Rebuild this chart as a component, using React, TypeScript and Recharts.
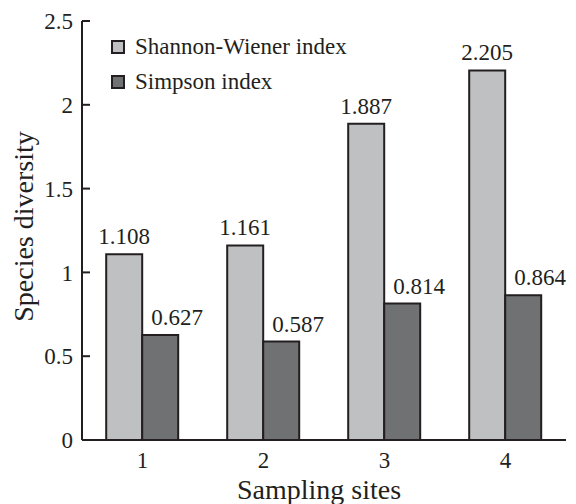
import React from "react";
import { BarChart, Bar, XAxis, YAxis, LabelList } from "recharts";

const sites = ["1", "2", "3", "4"];
const shannonValues = [1.108, 1.161, 1.887, 2.205];
const simpsonValues = [0.627, 0.587, 0.814, 0.864];
const yTicks = [0, 0.5, 1, 1.5, 2, 2.5];
const edgeTicks = [1, 2, 3, 4];

const FONT = "'Liberation Serif', 'Times New Roman', serif";
const INK = "#231f20";
const LIGHT = "#bfc0c2";
const DARK = "#707173";

const data = sites.map((site, i) => ({
  site,
  shannon: shannonValues[i],
  simpson: simpsonValues[i],
}));

const legendItems = [
  { name: "Shannon-Wiener index", color: LIGHT },
  { name: "Simpson index", color: DARK },
];

// legend drawn as an overlay so it doesn't push the plot area around
function LegendBox() {
  return (
    <div
      style={{
        position: "absolute",
        left: 111,
        top: 29,
        fontFamily: FONT,
        fontSize: 23,
        color: INK,
        whiteSpace: "nowrap",
      }}
    >
      {legendItems.map((item) => (
        <div
          key={item.name}
          style={{ display: "flex", alignItems: "center", height: 35 }}
        >
          <span
            style={{
              display: "inline-block",
              width: 10,
              height: 10,
              background: item.color,
              border: `2px solid ${INK}`,
              marginRight: 10,
            }}
          />
          {item.name}
        </div>
      ))}
    </div>
  );
}

// value labels; the dark series sits a bit to the right of its bar
const makeLabel = (dx: number) => (props: any) => {
  const { x, y, width, value } = props;
  return (
    <text
      x={Number(x) + Number(width) / 2 + dx}
      y={Number(y) - 10}
      textAnchor="middle"
      fontFamily={FONT}
      fontSize={23}
      fill={INK}
    >
      {value}
    </text>
  );
};

const YTitle = (props: any) => {
  const vb = props.viewBox || {};
  const cx = vb.x + 33;
  const cy = vb.y + vb.height / 2 - 4;
  return (
    <text
      x={cx}
      y={cy}
      transform={`rotate(-90, ${cx}, ${cy})`}
      textAnchor="middle"
      fontFamily={FONT}
      fontSize={28}
      fill={INK}
    >
      Species diversity
    </text>
  );
};

const XTitle = (props: any) => {
  const vb = props.viewBox || {};
  return (
    <text
      x={vb.x + vb.width / 2 - 5}
      y={vb.y + 59}
      textAnchor="middle"
      fontFamily={FONT}
      fontSize={28}
      fill={INK}
    >
      Sampling sites
    </text>
  );
};

export default function App() {
  return (
    <div style={{ position: "absolute", left: 0, top: 0, width: 576, height: 504 }}>
      <BarChart
        width={576}
        height={504}
        data={data}
        margin={{ top: 21, right: 10, bottom: 0, left: 0 }}
        barCategoryGap="20%"
        barGap={0}
      >
        <XAxis
          xAxisId="edge"
          type="number"
          domain={[0, 4]}
          ticks={edgeTicks}
          height={1}
          axisLine={false}
          tick={false}
          tickSize={-10}
          tickLine={{ stroke: INK, strokeWidth: 2 }}
        />
        <XAxis
          dataKey="site"
          height={63}
          axisLine={{ stroke: INK, strokeWidth: 2 }}
          tickLine={false}
          tickMargin={6}
          tick={{ fontFamily: FONT, fontSize: 23, fill: INK }}
          label={<XTitle />}
        />
        <YAxis
          width={82}
          domain={[0, 2.5]}
          ticks={yTicks}
          interval={0}
          axisLine={{ stroke: INK, strokeWidth: 2 }}
          tickLine={{ stroke: INK, strokeWidth: 2 }}
          tickSize={-8}
          tickMargin={17}
          tick={{ fontFamily: FONT, fontSize: 23, fill: INK }}
          label={<YTitle />}
        />
        <Bar
          dataKey="shannon"
          name="Shannon-Wiener index"
          fill={LIGHT}
          stroke={INK}
          strokeWidth={2}
          isAnimationActive={false}
        >
          <LabelList dataKey="shannon" content={makeLabel(0)} />
        </Bar>
        <Bar
          dataKey="simpson"
          name="Simpson index"
          fill={DARK}
          stroke={INK}
          strokeWidth={2}
          isAnimationActive={false}
        >
          <LabelList dataKey="simpson" content={makeLabel(17)} />
        </Bar>
      </BarChart>
      <LegendBox />
    </div>
  );
}
